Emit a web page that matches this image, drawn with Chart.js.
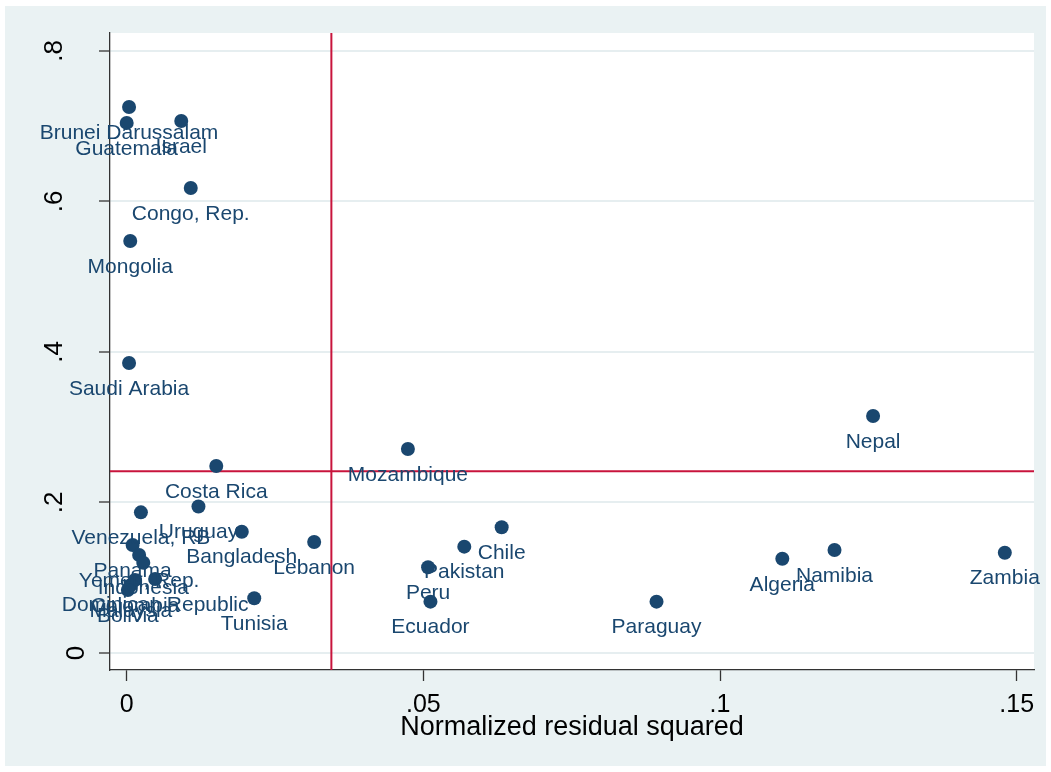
<!DOCTYPE html>
<html>
<head>
<meta charset="utf-8">
<script src="https://cdn.jsdelivr.net/npm/chart.js@4"></script>
<style>
html,body{margin:0;padding:0;background:#ffffff;}
#wrap{width:1051px;height:772px;position:relative;}
</style>
</head>
<body>
<div id="wrap"><canvas id="c" width="1051" height="772"></canvas></div>
<script>
// ---- data ----
const countries = [
  "Brunei Darussalam", "Guatemala", "Israel", "Congo, Rep.", "Mongolia",
  "Saudi Arabia", "Nepal", "Mozambique", "Costa Rica", "Venezuela, RB",
  "Uruguay", "Bangladesh", "Lebanon", "Chile", "Pakistan", "Peru",
  "Ecuador", "Paraguay", "Algeria", "Namibia", "Zambia", "Tunisia",
  "Panama", "Yemen, Rep.", "Indonesia", "Dominican Republic", "Colombia",
  "Malaysia", "Bolivia"
];
const residSq = [
  0.0004, 0.0000, 0.0092, 0.0108, 0.0006,
  0.0004, 0.1258, 0.0474, 0.0151, 0.0024,
  0.0121, 0.0194, 0.0316, 0.0632, 0.0569, 0.0508,
  0.0512, 0.0893, 0.1105, 0.1193, 0.1480, 0.0215,
  0.0010, 0.0021, 0.0028, 0.0048, 0.0014,
  0.0007, 0.0002
];
const leverage = [
  0.7256, 0.7044, 0.7070, 0.6180, 0.5475,
  0.3854, 0.3150, 0.2711, 0.2485, 0.1869,
  0.1946, 0.1612, 0.1475, 0.1671, 0.1413, 0.1139,
  0.0682, 0.0682, 0.1253, 0.1369, 0.1333, 0.0727,
  0.1435, 0.1302, 0.1200, 0.0984, 0.0970,
  0.0904, 0.0837
];
const xTicks = [0, 0.05, 0.1, 0.15];
const yTicks = [0, 0.2, 0.4, 0.6, 0.8];
const xRange = [-0.00281, 0.15292];
const yRange = [-0.0226, 0.8239];
const meanResidSq = 0.0345;   // vertical reference line
const meanLeverage = 0.2415;  // horizontal reference line
const xTitle = "Normalized residual squared";

// ---- styles ----
const NAVY = "#1A476F";
const RED = "#C8143C";
const PANEL = "#EAF2F3";
const GRID = "#E6EEF0";
const AXIS = "#333333";
const FONT = '"Liberation Sans", Arial, Helvetica, sans-serif';

function fmt(v) {
  if (v === 0) return "0";
  return String(v).replace(/^0\./, ".");
}

const bgPlugin = {
  id: "bg",
  beforeDraw(chart) {
    const ctx = chart.ctx, a = chart.chartArea;
    ctx.save();
    ctx.fillStyle = "#ffffff";
    ctx.fillRect(0, 0, chart.width, chart.height);
    ctx.fillStyle = PANEL;
    ctx.fillRect(5, 6, 1041, 760);
    ctx.fillStyle = "#ffffff";
    ctx.fillRect(a.left, a.top, a.right - a.left, a.bottom - a.top);
    ctx.restore();
  }
};

const labelPlugin = {
  id: "mlabels",
  afterDatasetsDraw(chart) {
    const meta = chart.getDatasetMeta(0);
    const ctx = chart.ctx;
    ctx.save();
    ctx.font = "21px " + FONT;
    ctx.fillStyle = NAVY;
    ctx.textAlign = "center";
    ctx.textBaseline = "middle";
    meta.data.forEach((pt, i) => {
      ctx.fillText(countries[i], pt.x, pt.y + 26);
    });
    ctx.restore();
  }
};

const pts = countries.map((c, i) => ({ x: residSq[i], y: leverage[i] }));

new Chart(document.getElementById("c"), {
  type: "scatter",
  data: {
    datasets: [
      {
        label: "obs",
        data: pts,
        pointRadius: 7,
        pointHoverRadius: 7,
        backgroundColor: NAVY,
        borderWidth: 0,
        order: 1
      },
      {
        type: "line",
        label: "vref",
        data: [{ x: meanResidSq, y: yRange[0] }, { x: meanResidSq, y: yRange[1] }],
        borderColor: RED,
        borderWidth: 2,
        pointRadius: 0,
        showLine: true,
        fill: false,
        order: 2
      },
      {
        type: "line",
        label: "href",
        data: [{ x: xRange[0], y: meanLeverage }, { x: xRange[1], y: meanLeverage }],
        borderColor: RED,
        borderWidth: 2,
        pointRadius: 0,
        showLine: true,
        fill: false,
        order: 2
      }
    ]
  },
  options: {
    responsive: false,
    animation: false,
    devicePixelRatio: 1,
    layout: { padding: { top: 33, right: 17, left: 0, bottom: 0 } },
    plugins: { legend: { display: false }, tooltip: { enabled: false } },
    scales: {
      x: {
        type: "linear",
        min: xRange[0],
        max: xRange[1],
        afterBuildTicks(s) { s.ticks = xTicks.map(v => ({ value: v })); },
        afterFit(s) { s.height = 102; s.paddingLeft = 0; s.paddingRight = 0; },
        border: { display: true, color: AXIS, width: 1.3 },
        grid: { drawOnChartArea: false, drawTicks: true, tickLength: 11, tickColor: AXIS, tickWidth: 1.3 },
        ticks: {
          callback: v => fmt(v),
          font: { family: FONT, size: 25 },
          color: "#000",
          padding: 9,
          maxRotation: 0,
          minRotation: 0,
          autoSkip: false
        },
        title: {
          display: true,
          text: xTitle,
          font: { family: FONT, size: 27 },
          color: "#000",
          padding: { top: 0, bottom: 28 }
        }
      },
      y: {
        type: "linear",
        min: yRange[0],
        max: yRange[1],
        afterBuildTicks(s) { s.ticks = yTicks.map(v => ({ value: v })); },
        afterFit(s) { s.width = 110; s.paddingTop = 0; s.paddingBottom = 0; },
        border: { display: true, color: AXIS, width: 1.3 },
        grid: { color: GRID, lineWidth: 2, drawTicks: true, tickLength: 11, tickColor: AXIS, tickWidth: 1.3 },
        ticks: {
          callback: v => (v === 0 ? ["", "0"] : fmt(v)),
          font: (ctx) => ({ family: FONT, size: 26, lineHeight: (ctx.tick && ctx.tick.value === 0) ? "44px" : 1.2 }),
          color: "#000",
          padding: 33,
          minRotation: 90,
          maxRotation: 90,
          crossAlign: "center",
          autoSkip: false
        }
      }
    }
  },
  plugins: [bgPlugin, labelPlugin]
});
</script>
</body>
</html>
